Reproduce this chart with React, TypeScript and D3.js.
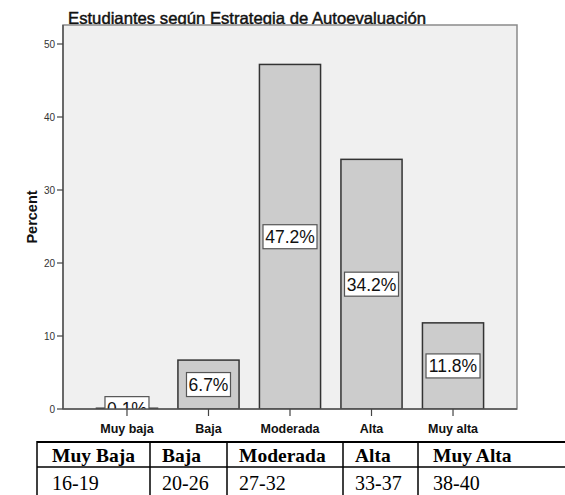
import React from "react";
import * as d3 from "d3";

const categories = ["Muy baja", "Baja", "Moderada", "Alta", "Muy alta"];
const percents = [0.1, 6.7, 47.2, 34.2, 11.8];
const yTicks = [0, 10, 20, 30, 40, 50];
const tableHeaders = ["Muy Baja", "Baja", "Moderada", "Alta", "Muy Alta"];
const tableRanges = ["16-19", "20-26", "27-32", "33-37", "38-40"];
const tableColEdges = [37, 150, 227, 343, 418, 567];

const W = 565;
const H = 495;
const plot = { left: 63, right: 517, top: 25, bottom: 409 };

export default function App() {
  const x = d3
    .scalePoint<string>()
    .domain(categories)
    .range([plot.left, plot.right])
    .padding(0.785);
  const y = d3
    .scaleLinear()
    .domain([0, (409 - 25) / 7.3])
    .range([plot.bottom, plot.top]);
  const barW = x.step() * 0.75;
  const sans = "'Liberation Sans', Arial, sans-serif";
  const serif = "'Liberation Serif', 'Times New Roman', serif";

  return (
    <svg
      width={W}
      height={H}
      style={{ position: "absolute", left: 0, top: 0, background: "#fff" }}
    >
      <defs>
        <clipPath id="plotclip">
          <rect
            x={plot.left}
            y={plot.top}
            width={plot.right - plot.left}
            height={plot.bottom - plot.top}
          />
        </clipPath>
      </defs>
      <text
        x={68}
        y={24}
        fontFamily={sans}
        fontSize={16.5}
        fill="#111"
        stroke="#111"
        strokeWidth={0.45}
        textLength={358}
        lengthAdjust="spacingAndGlyphs"
      >
        Estudiantes según Estrategia de Autoevaluación
      </text>
      <rect
        x={plot.left}
        y={plot.top}
        width={plot.right - plot.left}
        height={plot.bottom - plot.top}
        fill="#f0f0f0"
        stroke="#8a8a8a"
        strokeWidth={1.5}
      />
      <g clipPath="url(#plotclip)">
        {categories.map((c, i) => (
          <rect
            key={c}
            x={(x(c) as number) - barW / 2}
            y={y(percents[i])}
            width={barW}
            height={plot.bottom - y(percents[i])}
            fill="#cccccc"
            stroke="#333"
            strokeWidth={1.5}
          />
        ))}
        {categories.map((c, i) => {
          const cy = (plot.bottom + y(percents[i])) / 2;
          const label = percents[i].toFixed(1) + "%";
          const bw = label.length >= 5 ? 54 : 44;
          return (
            <g key={c + "l"}>
              <rect
                x={(x(c) as number) - bw / 2}
                y={cy - 12}
                width={bw}
                height={24}
                fill="#fff"
                stroke="#555"
                strokeWidth={1.2}
              />
              <text
                x={x(c) as number}
                y={cy + 6.5}
                textAnchor="middle"
                fontFamily={sans}
                fontSize={17.5}
                fill="#111"
              >
                {label}
              </text>
            </g>
          );
        })}
      </g>
      {/* axes */}
      <line x1={plot.left} x2={plot.left} y1={plot.top} y2={plot.bottom} stroke="#555" strokeWidth={1.5} />
      <line x1={plot.left} x2={plot.right} y1={plot.bottom} y2={plot.bottom} stroke="#555" strokeWidth={1.5} />
      {yTicks.map((t) => (
        <g key={t}>
          <line x1={57} x2={plot.left} y1={y(t)} y2={y(t)} stroke="#444" strokeWidth={1.2} />
          <text
            x={55}
            y={y(t) + 3.5}
            textAnchor="end"
            fontFamily={sans}
            fontSize={10}
            fill="#333"
          >
            {t}
          </text>
        </g>
      ))}
      {categories.map((c) => (
        <g key={c + "t"}>
          <line x1={x(c) as number} x2={x(c) as number} y1={plot.bottom} y2={plot.bottom + 7} stroke="#444" strokeWidth={1.2} />
          <text
            x={x(c) as number}
            y={433}
            textAnchor="middle"
            fontFamily={sans}
            fontSize={12.5}
            fontWeight="bold"
            fill="#111"
          >
            {c}
          </text>
        </g>
      ))}
      <text
        transform="translate(37,217) rotate(-90)"
        textAnchor="middle"
        fontFamily={sans}
        fontSize={14.5}
        fontWeight="bold"
        fill="#111"
      >
        Percent
      </text>
      {/* table */}
      <line x1={37} x2={565} y1={442} y2={442} stroke="#000" strokeWidth={2} />
      <line x1={37} x2={565} y1={467} y2={467} stroke="#000" strokeWidth={1.5} />
      {tableColEdges.slice(0, 5).map((e, i) => (
        <line key={"v" + i} x1={e} x2={e} y1={441} y2={495} stroke="#000" strokeWidth={1.5} />
      ))}
      {tableHeaders.map((h, i) => (
        <text
          key={h}
          x={tableColEdges[i] + (i === 0 || i === 4 ? 15 : 12)}
          y={462}
          fontFamily={serif}
          fontSize={19.5}
          fontWeight="bold"
          fill="#000"
        >
          {h}
        </text>
      ))}
      {tableRanges.map((r, i) => (
        <text
          key={r}
          x={tableColEdges[i] + (i === 0 || i === 4 ? 15 : 12)}
          y={490}
          fontFamily={serif}
          fontSize={20}
          fill="#000"
        >
          {r}
        </text>
      ))}
    </svg>
  );
}
